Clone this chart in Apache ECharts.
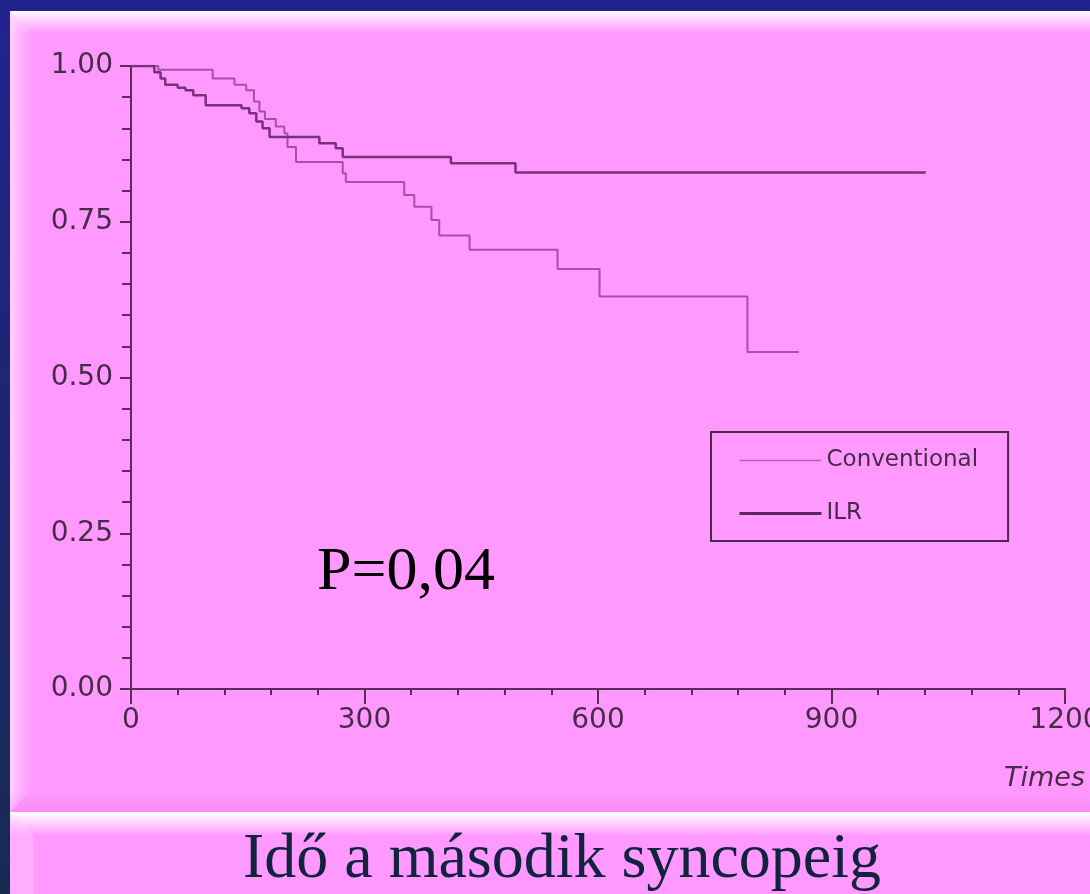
<!DOCTYPE html>
<html>
<head>
<meta charset="utf-8">
<title>Idő a második syncopeig</title>
<script src="https://cdn.jsdelivr.net/npm/echarts@6/dist/echarts.min.js"></script>
<style>
  html, body { margin: 0; padding: 0; background: #1f1f88; overflow: hidden; }
  #chart { width: 1090px; height: 894px; }
</style>
</head>
<body>
<div id="chart"></div>
<script>
// Kaplan–Meier step points: time (days) at which the survival drops, and the new level
const conventionalTimes    = [0, 35, 105, 133, 148, 158, 165, 172, 186, 197, 201, 212, 272, 276, 351, 364, 386, 396, 435, 548, 602, 792, 858];
const conventionalSurvival = [1.0, 0.994, 0.98, 0.97, 0.961, 0.943, 0.927, 0.915, 0.903, 0.892, 0.870, 0.846, 0.828, 0.814, 0.793, 0.774, 0.753, 0.728, 0.705, 0.674, 0.630, 0.541, 0.541];

const ilrTimes    = [0, 30, 38, 44, 60, 70, 80, 96, 142, 152, 161, 169, 178, 242, 263, 272, 411, 494, 1021];
const ilrSurvival = [1.0, 0.99, 0.98, 0.97, 0.965, 0.961, 0.953, 0.937, 0.932, 0.924, 0.911, 0.900, 0.886, 0.876, 0.868, 0.854, 0.844, 0.829, 0.829];

const seriesNames = ['Conventional', 'ILR'];
const xTicks = [0, 300, 600, 900, 1200];
const yTicks = [0, 0.25, 0.5, 0.75, 1.0];
const pValueText = 'P=0,04';
const captionText = 'Idő a második syncopeig';
const xAxisName = 'Times';

const zip = (xs, ys) => xs.map((x, i) => [x, ys[i]]);

const PINK = '#ff99ff';
const AXIS = '#5a2c5a';
const LABEL = '#472b47';
const sans = '"DejaVu Sans", Verdana, sans-serif';
const serif = '"Liberation Serif", "Times New Roman", Times, serif';

const chart = echarts.init(document.getElementById('chart'), null, { renderer: 'canvas' });

chart.setOption({
  animation: false,
  backgroundColor: {
    type: 'linear', x: 0, y: 0, x2: 0, y2: 1,
    colorStops: [{ offset: 0, color: '#22228e' }, { offset: 1, color: '#172a52' }]
  },
  graphic: [
    // main slide panel
    { type: 'rect', z: -100, shape: { x: 10, y: 11, width: 1080, height: 801 }, style: { fill: PINK } },
    { type: 'rect', z: -99, shape: { x: 10, y: 11, width: 1080, height: 22 },
      style: { fill: { type: 'linear', x: 0, y: 0, x2: 0, y2: 1,
        colorStops: [{ offset: 0, color: 'rgba(255,255,255,0.95)' }, { offset: 1, color: 'rgba(255,255,255,0)' }] } } },
    { type: 'polygon', z: -98, shape: { points: [[10, 11], [32, 33], [32, 790], [10, 812]] },
      style: { fill: { type: 'linear', x: 0, y: 0, x2: 1, y2: 0,
        colorStops: [{ offset: 0, color: 'rgba(255,215,255,0.9)' }, { offset: 1, color: 'rgba(255,180,255,0.2)' }] } } },
    { type: 'rect', z: -98, shape: { x: 10, y: 790, width: 1080, height: 22 },
      style: { fill: { type: 'linear', x: 0, y: 0, x2: 0, y2: 1,
        colorStops: [{ offset: 0, color: 'rgba(230,120,230,0)' }, { offset: 1, color: 'rgba(230,120,230,0.35)' }] } } },
    // caption panel
    { type: 'rect', z: -97, shape: { x: 10, y: 812, width: 1080, height: 82 }, style: { fill: PINK } },
    { type: 'rect', z: -96, shape: { x: 10, y: 812, width: 1080, height: 24 },
      style: { fill: { type: 'linear', x: 0, y: 0, x2: 0, y2: 1,
        colorStops: [{ offset: 0, color: 'rgba(255,255,255,1)' }, { offset: 1, color: 'rgba(255,255,255,0)' }] } } },
    { type: 'polygon', z: -95, shape: { points: [[10, 812], [34, 836], [34, 894], [10, 894]] },
      style: { fill: 'rgba(255,200,255,0.45)' } },
    // log-rank p value
    { type: 'text', z: 50, style: { text: pValueText, x: 317, y: 573, font: '62px ' + serif, fill: '#000000', align: 'left', verticalAlign: 'middle' } },
    // caption
    { type: 'text', z: 50, style: { text: captionText, x: 562, y: 860, font: '64px ' + serif, fill: '#12233f', align: 'center', verticalAlign: 'middle' } }
  ],
  grid: { left: 131, right: 25, top: 66, bottom: 205, containLabel: false, outerBoundsMode: 'none' },
  legend: {
    orient: 'vertical',
    left: 711, top: 432,
    padding: [17, 30, 16, 27],
    itemGap: 30,
    itemWidth: 82, itemHeight: 14,
    borderColor: '#4a284a', borderWidth: 2,
    textStyle: { fontSize: 23, color: LABEL, fontFamily: sans },
    data: [
      { name: seriesNames[0], itemStyle: { opacity: 0 }, lineStyle: { width: 1.5, color: '#b064b0' } },
      { name: seriesNames[1], itemStyle: { opacity: 0 }, lineStyle: { width: 3, color: '#5e245e' } }
    ]
  },
  xAxis: {
    type: 'value', min: xTicks[0], max: xTicks[xTicks.length - 1], interval: 300,
    name: xAxisName, nameLocation: 'end', nameGap: 20,
    nameTextStyle: { fontSize: 27, fontStyle: 'italic', color: LABEL, fontFamily: sans,
      align: 'right', verticalAlign: 'top', padding: [76, 0, 0, 0] },
    axisLine: { show: true, onZero: false, lineStyle: { color: AXIS, width: 2 } },
    axisTick: { show: true, length: 15, lineStyle: { color: AXIS, width: 2 } },
    minorTick: { show: true, splitNumber: 5, length: 6, lineStyle: { color: AXIS, width: 2 } },
    splitLine: { show: false },
    axisLabel: { fontSize: 28, color: LABEL, fontFamily: sans, margin: 18, formatter: v => String(v) }
  },
  yAxis: {
    type: 'value', min: yTicks[0], max: yTicks[yTicks.length - 1], interval: 0.25,
    axisLine: { show: true, onZero: false, lineStyle: { color: AXIS, width: 2 } },
    axisTick: { show: true, length: 11, lineStyle: { color: AXIS, width: 2 } },
    minorTick: { show: true, splitNumber: 5, length: 9, lineStyle: { color: AXIS, width: 2 } },
    splitLine: { show: false },
    axisLabel: { fontSize: 28, color: LABEL, fontFamily: sans, margin: 18,
      formatter: v => v.toFixed(2) }
  },
  series: [
    {
      name: seriesNames[0], type: 'line', step: 'end', symbol: 'none',
      data: zip(conventionalTimes, conventionalSurvival),
      lineStyle: { color: '#a650a6', width: 2 }, itemStyle: { color: '#a650a6' }
    },
    {
      name: seriesNames[1], type: 'line', step: 'end', symbol: 'none',
      data: zip(ilrTimes, ilrSurvival),
      lineStyle: { color: '#7a307a', width: 2.5 }, itemStyle: { color: '#7a307a' }
    }
  ]
});
</script>
</body>
</html>
